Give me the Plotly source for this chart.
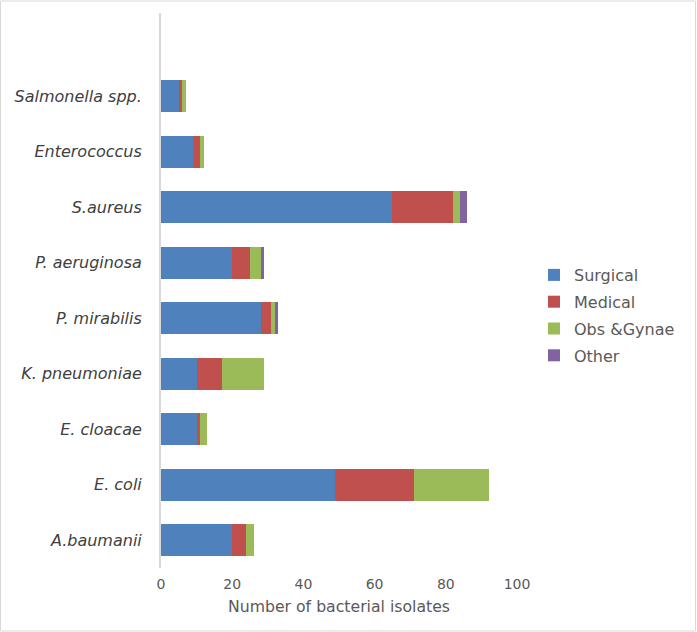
import plotly.graph_objects as go

categories = ["A.baumanii", "E. coli", "E. cloacae", "K. pneumoniae", "P. mirabilis",
              "P. aeruginosa", "S.aureus", "Enterococcus", "Salmonella spp."]
surgical = [20, 49, 10, 10, 28, 20, 65, 9, 5]
medical = [4, 22, 1, 7, 3, 5, 17, 2, 1]
obs_gynae = [2, 21, 2, 12, 1, 3, 2, 1, 1]
other = [0, 0, 0, 0, 1, 1, 2, 0, 0]
x_ticks = [0, 20, 40, 60, 80, 100]

series = [("Surgical", surgical, "#4f81bd"),
          ("Medical", medical, "#c0504d"),
          ("Obs &Gynae", obs_gynae, "#9bbb59"),
          ("Other", other, "#8064a2")]

positions = list(range(len(categories)))

fig = go.Figure()
for name, vals, col in series:
    fig.add_trace(go.Bar(
        y=positions, x=vals, name=name, orientation="h",
        marker=dict(color=col, line=dict(width=0)),
        width=0.58, legendgroup=name,
    ))

W, H = 697, 632
ml, mr, mt, mb = 161, 180, 13, 64
pw, ph = W - ml - mr, H - mt - mb
FONT = "DejaVu Sans"

fig.update_layout(
    width=W, height=H,
    barmode="stack",
    margin=dict(l=ml, r=mr, t=mt, b=mb),
    paper_bgcolor="white", plot_bgcolor="white",
    font=dict(family=FONT, color="#595959"),
    showlegend=True,
    legend=dict(x=(534 - ml) / pw, y=(H - mb - 258) / ph, xanchor="left", yanchor="top",
                traceorder="grouped", tracegroupgap=3,
                font=dict(size=16, color="#595959"), itemwidth=30),
    xaxis=dict(range=[0, 100], tickvals=x_ticks, showgrid=False,
               zeroline=False, showline=False, tickfont=dict(size=14, color="#595959"),
               ticklabelstandoff=6,
               title=dict(text="Number of bacterial isolates", font=dict(size=15.7, color="#595959"),
                          standoff=10)),
    yaxis=dict(range=[-0.5, 9.5], tickvals=positions, ticktext=["<i>%s</i>" % c for c in categories],
               showgrid=False, zeroline=False, showline=True, linecolor="#d9d9d9", linewidth=2,
               tickfont=dict(size=16, color="#404040"), ticklabelstandoff=14, ticks=""),
    shapes=[dict(type="rect", xref="paper", yref="paper",
                 x0=-ml / pw + 0.5 / pw, x1=1 + (mr - 1.5) / pw,
                 y0=-mb / ph + 1 / ph, y1=1 + (mt - 1) / ph,
                 line=dict(color="#d9d9d9", width=1))],
)

fig.write_html("out.html", config={"displayModeBar": False},
               post_script="document.body.style.margin='0px';")
